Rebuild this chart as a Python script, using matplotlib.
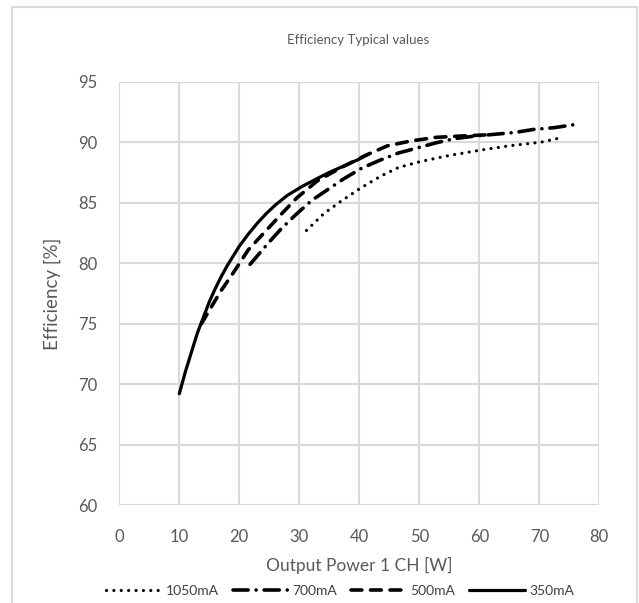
import matplotlib
matplotlib.use("Agg")
import matplotlib.pyplot as plt
from matplotlib.patches import Rectangle

# Output power [W] vs efficiency [%] per output current
p350 = [10, 11, 12, 13, 14, 15, 16, 17, 18, 19, 20, 21.5, 23, 24.5, 26, 28, 30.5, 33, 35, 40, 41.5]
e350 = [69.2, 71.0, 72.6, 74.2, 75.5, 76.8, 77.9, 78.9, 79.8, 80.6, 81.4, 82.4, 83.3, 84.1, 84.8,
        85.6, 86.35, 87.0, 87.5, 88.6, 89.0]

p500 = [13.7, 16.8, 19.0, 21.5, 24.3, 27.1, 29.6, 33, 37, 41, 44.7, 48.6, 52.8, 56.7, 61]
e500 = [75.0, 77.6, 79.2, 81.1, 82.6, 84.1, 85.4, 86.8, 87.9, 88.9, 89.7, 90.1, 90.4, 90.5, 90.6]

p700 = [21.8, 24.9, 27.1, 29.4, 32.1, 34.8, 37.5, 40.4, 43.4, 46.5, 49.5, 52.8, 56, 59.2,
        62.5, 65.9, 69, 72.5, 76.5]
e700 = [79.9, 81.7, 82.9, 84.0, 85.2, 86.1, 87.0, 87.85, 88.5, 89.1, 89.5, 89.95, 90.3, 90.5,
        90.65, 90.8, 91.05, 91.2, 91.5]

p1050 = [31.2, 34.1, 36.9, 40.2, 43.6, 46.5, 50.2, 55, 60.3, 65, 70.3, 73.9]
e1050 = [82.7, 84.1, 85.1, 86.2, 87.2, 87.9, 88.4, 88.9, 89.35, 89.7, 90.0, 90.4]

xticks = [0, 10, 20, 30, 40, 50, 60, 70, 80]
yticks = [60, 65, 70, 75, 80, 85, 90, 95]

plt.rcParams["font.family"] = ["Lato", "DejaVu Sans"]
grey = "#595959"
gridc = "#d9d9d9"

fig = plt.figure(figsize=(6.39, 6.03), dpi=100)
ax = fig.add_axes([119.3 / 639, 1 - 505 / 603, (599.3 - 119.3) / 639, (505 - 81.7) / 603])

# outer chart frame
fig.patches.append(Rectangle((11.7 / 639, -0.05), (636.7 - 11.7) / 639, 1.05 - 6.7 / 603,
                             transform=fig.transFigure, fill=False, ec=gridc, lw=1.5))

lw = 2.3
ax.plot(p1050, e1050, color="black", lw=lw, linestyle=(0, (0.01, 2.3)),
        dash_capstyle="round", label="1050mA")
ax.plot(p700, e700, color="black", lw=lw + 0.3, linestyle=(0, (4.2, 2.2, 0.01, 2.2)),
        dash_capstyle="round", label="700mA")
ax.plot(p500, e500, color="black", lw=lw + 0.3, linestyle=(0, (3.0, 2.4)),
        dash_capstyle="round", label="500mA")
ax.plot(p350, e350, color="black", lw=lw, solid_capstyle="round", label="350mA")

ax.set_xlim(0, 80)
ax.set_ylim(60, 95)
ax.set_xticks(xticks)
ax.set_yticks(yticks)
ax.grid(True, color=gridc, lw=1.5)
ax.set_axisbelow(True)
for s in ax.spines.values():
    s.set_visible(False)
ax.tick_params(length=0, labelsize=12, labelcolor=grey)
ax.tick_params(axis="x", pad=17)
ax.tick_params(axis="y", pad=16)

ax.set_xlabel("Output Power 1 CH [W]", fontsize=12.5, color=grey, labelpad=9)
ax.set_ylabel("Efficiency [%]", fontsize=13.5, color=grey, labelpad=12)
fig.text(358 / 639, 1 - 40 / 603, "Efficiency Typical values", fontsize=9.5, color=grey,
         ha="center", va="center")

fig.legend(loc="center", bbox_to_anchor=(340 / 639, 1 - 591 / 603), ncol=4, frameon=False,
           fontsize=10, handlelength=4.0, handletextpad=0.3, columnspacing=1.0,
           labelcolor="#404040")

fig.savefig("out.png", dpi=100)
